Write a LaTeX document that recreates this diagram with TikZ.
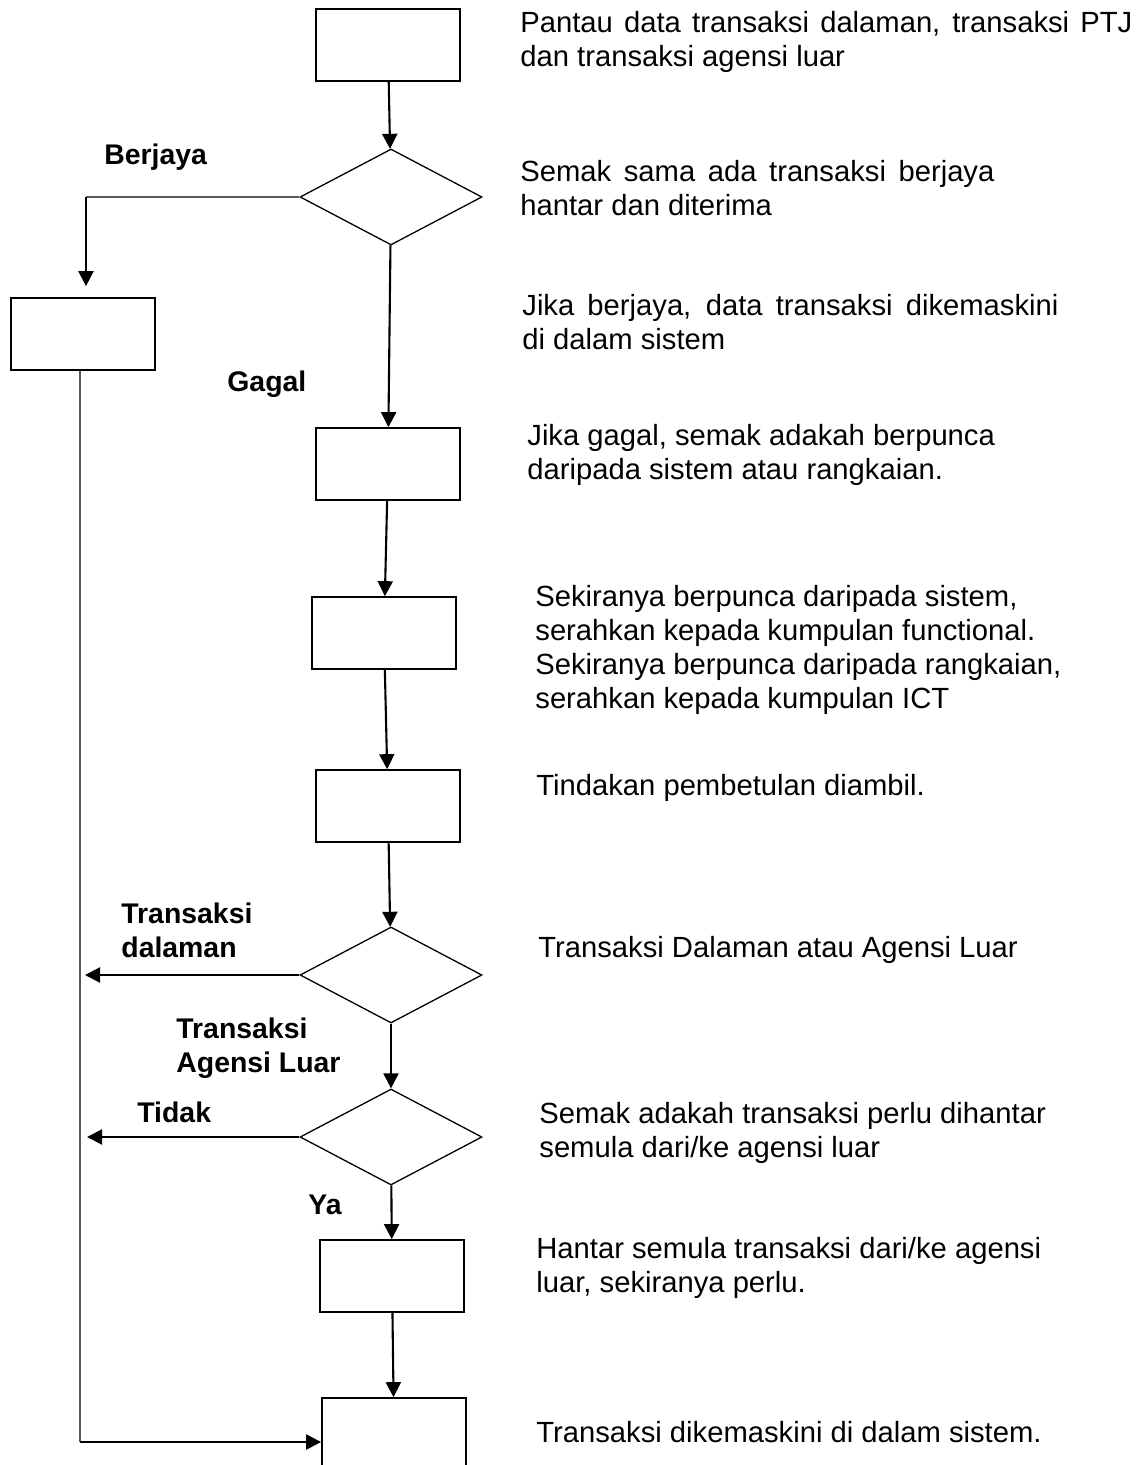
\documentclass[tikz,border=0pt]{standalone}
\usepackage{fontspec}
\setmainfont{Liberation Sans}
\usetikzlibrary{shapes.geometric,arrows.meta}
\tikzset{
  stepbox/.style = { draw, line width=0.85pt, minimum width=72pt, minimum height=36pt, inner sep=0pt },
  decide/.style  = { draw, diamond, line width=0.65pt, minimum width=91pt, minimum height=48pt, inner sep=0pt },
  flow/.style    = { line width=1.05pt, -{Triangle[length=7.5pt,width=7.5pt]} },
  plain/.style   = { line width=0.75pt, black!65 },
  answer/.style  = { anchor=west, inner sep=0pt, align=left, font=\fontsize{14.2}{17}\selectfont\bfseries },
  note/.style    = { anchor=west, inner sep=0pt, align=left, font=\fontsize{14.6}{17}\selectfont }
}

\begin{document}
\begin{tikzpicture}[x=0.5pt,y=-0.5pt]
    \useasboundingbox (0,0) rectangle (1141,1465);
    \clip (0,0) rectangle (1141,1465);

    % main column
    \node[stepbox] (pantau)    at (388,45)   {};
    \node[decide]  (semak)     at (391,197)  {};
    \node[stepbox] (kemaskini) at (83,334)   {};
    \node[stepbox] (punca)     at (388,464)  {};
    \node[stepbox] (serah)     at (384,633)  {};
    \node[stepbox] (tindak)    at (388,806)  {};
    \node[decide]  (jenis)     at (391,975)  {};
    \node[decide]  (perlu)     at (391,1137) {};
    \node[stepbox] (hantar)    at (392,1276) {};
    \node[stepbox] (akhir)     at (394,1434) {};

    \coordinate (bend) at (86,197);
    \coordinate (out1) at (85,975);
    \coordinate (out2) at (87,1137);
    \coordinate (base) at (80,1442);

    \draw[flow] (pantau) -- (semak);
    \draw[flow] (semak)  -- (punca);
    \draw[flow] (punca)  -- (serah);
    \draw[flow] (serah)  -- (tindak);
    \draw[flow] (tindak) -- (jenis);
    \draw[flow] (jenis)  -- (perlu);
    \draw[flow] (perlu)  -- (hantar);
    \draw[flow] (hantar) -- (akhir);

    \draw[plain] (semak.west) -- (bend);
    \draw[flow, shorten >=5.5pt] (bend) -- (bend |- kemaskini.north);
    \draw[plain] (base |- kemaskini.south) -- (base);
    \draw[flow] (base) -- (base -| akhir.west);

    \draw[flow] (jenis.west) -- (out1);
    \draw[flow] (perlu.west) -- (out2);

    % branch labels
    \node[answer] (berjaya) at (104,157)  {Berjaya};
    \node[answer] (gagal)   at (227,384)  {Gagal};
    \node[answer] (dalaman) at (121,930)  {Transaksi\\dalaman};
    \node[answer] (agensi)  at (176,1048) {Transaksi\\Agensi Luar};
    \node[answer] (tidak)   at (137,1112) {Tidak};
    \node[answer] (ya)      at (308,1205) {Ya};

    % step notes
    \node[note] (n1)  at (520,42)   {\makebox[306pt][s]{Pantau data transaksi dalaman, transaksi PTJ}\\dan transaksi agensi luar};
    \node[note] (n2)  at (520,188)  {\makebox[237pt][s]{Semak sama ada transaksi berjaya}\\hantar dan diterima};
    \node[note] (n3)  at (522,322)  {\makebox[268pt][s]{Jika berjaya, data transaksi dikemaskini}\\di dalam sistem};
    \node[note] (n4)  at (527,455)  {Jika gagal, semak adakah berpunca\\daripada sistem atau rangkaian.};
    \node[note] (n5)  at (535,650)  {Sekiranya berpunca daripada sistem,\\serahkan kepada kumpulan functional.\\Sekiranya berpunca daripada rangkaian,\\serahkan kepada kumpulan ICT};
    \node[note] (n6)  at (536,788)  {Tindakan pembetulan diambil.};
    \node[note] (n7)  at (538,950)  {Transaksi Dalaman atau Agensi Luar};
    \node[note] (n8)  at (539,1133) {Semak adakah transaksi perlu dihantar\\semula dari/ke agensi luar};
    \node[note] (n9)  at (536,1268) {Hantar semula transaksi dari/ke agensi\\luar, sekiranya perlu.};
    \node[note] (n10) at (536,1432) {Transaksi dikemaskini di dalam sistem.};
\end{tikzpicture}
\end{document}
